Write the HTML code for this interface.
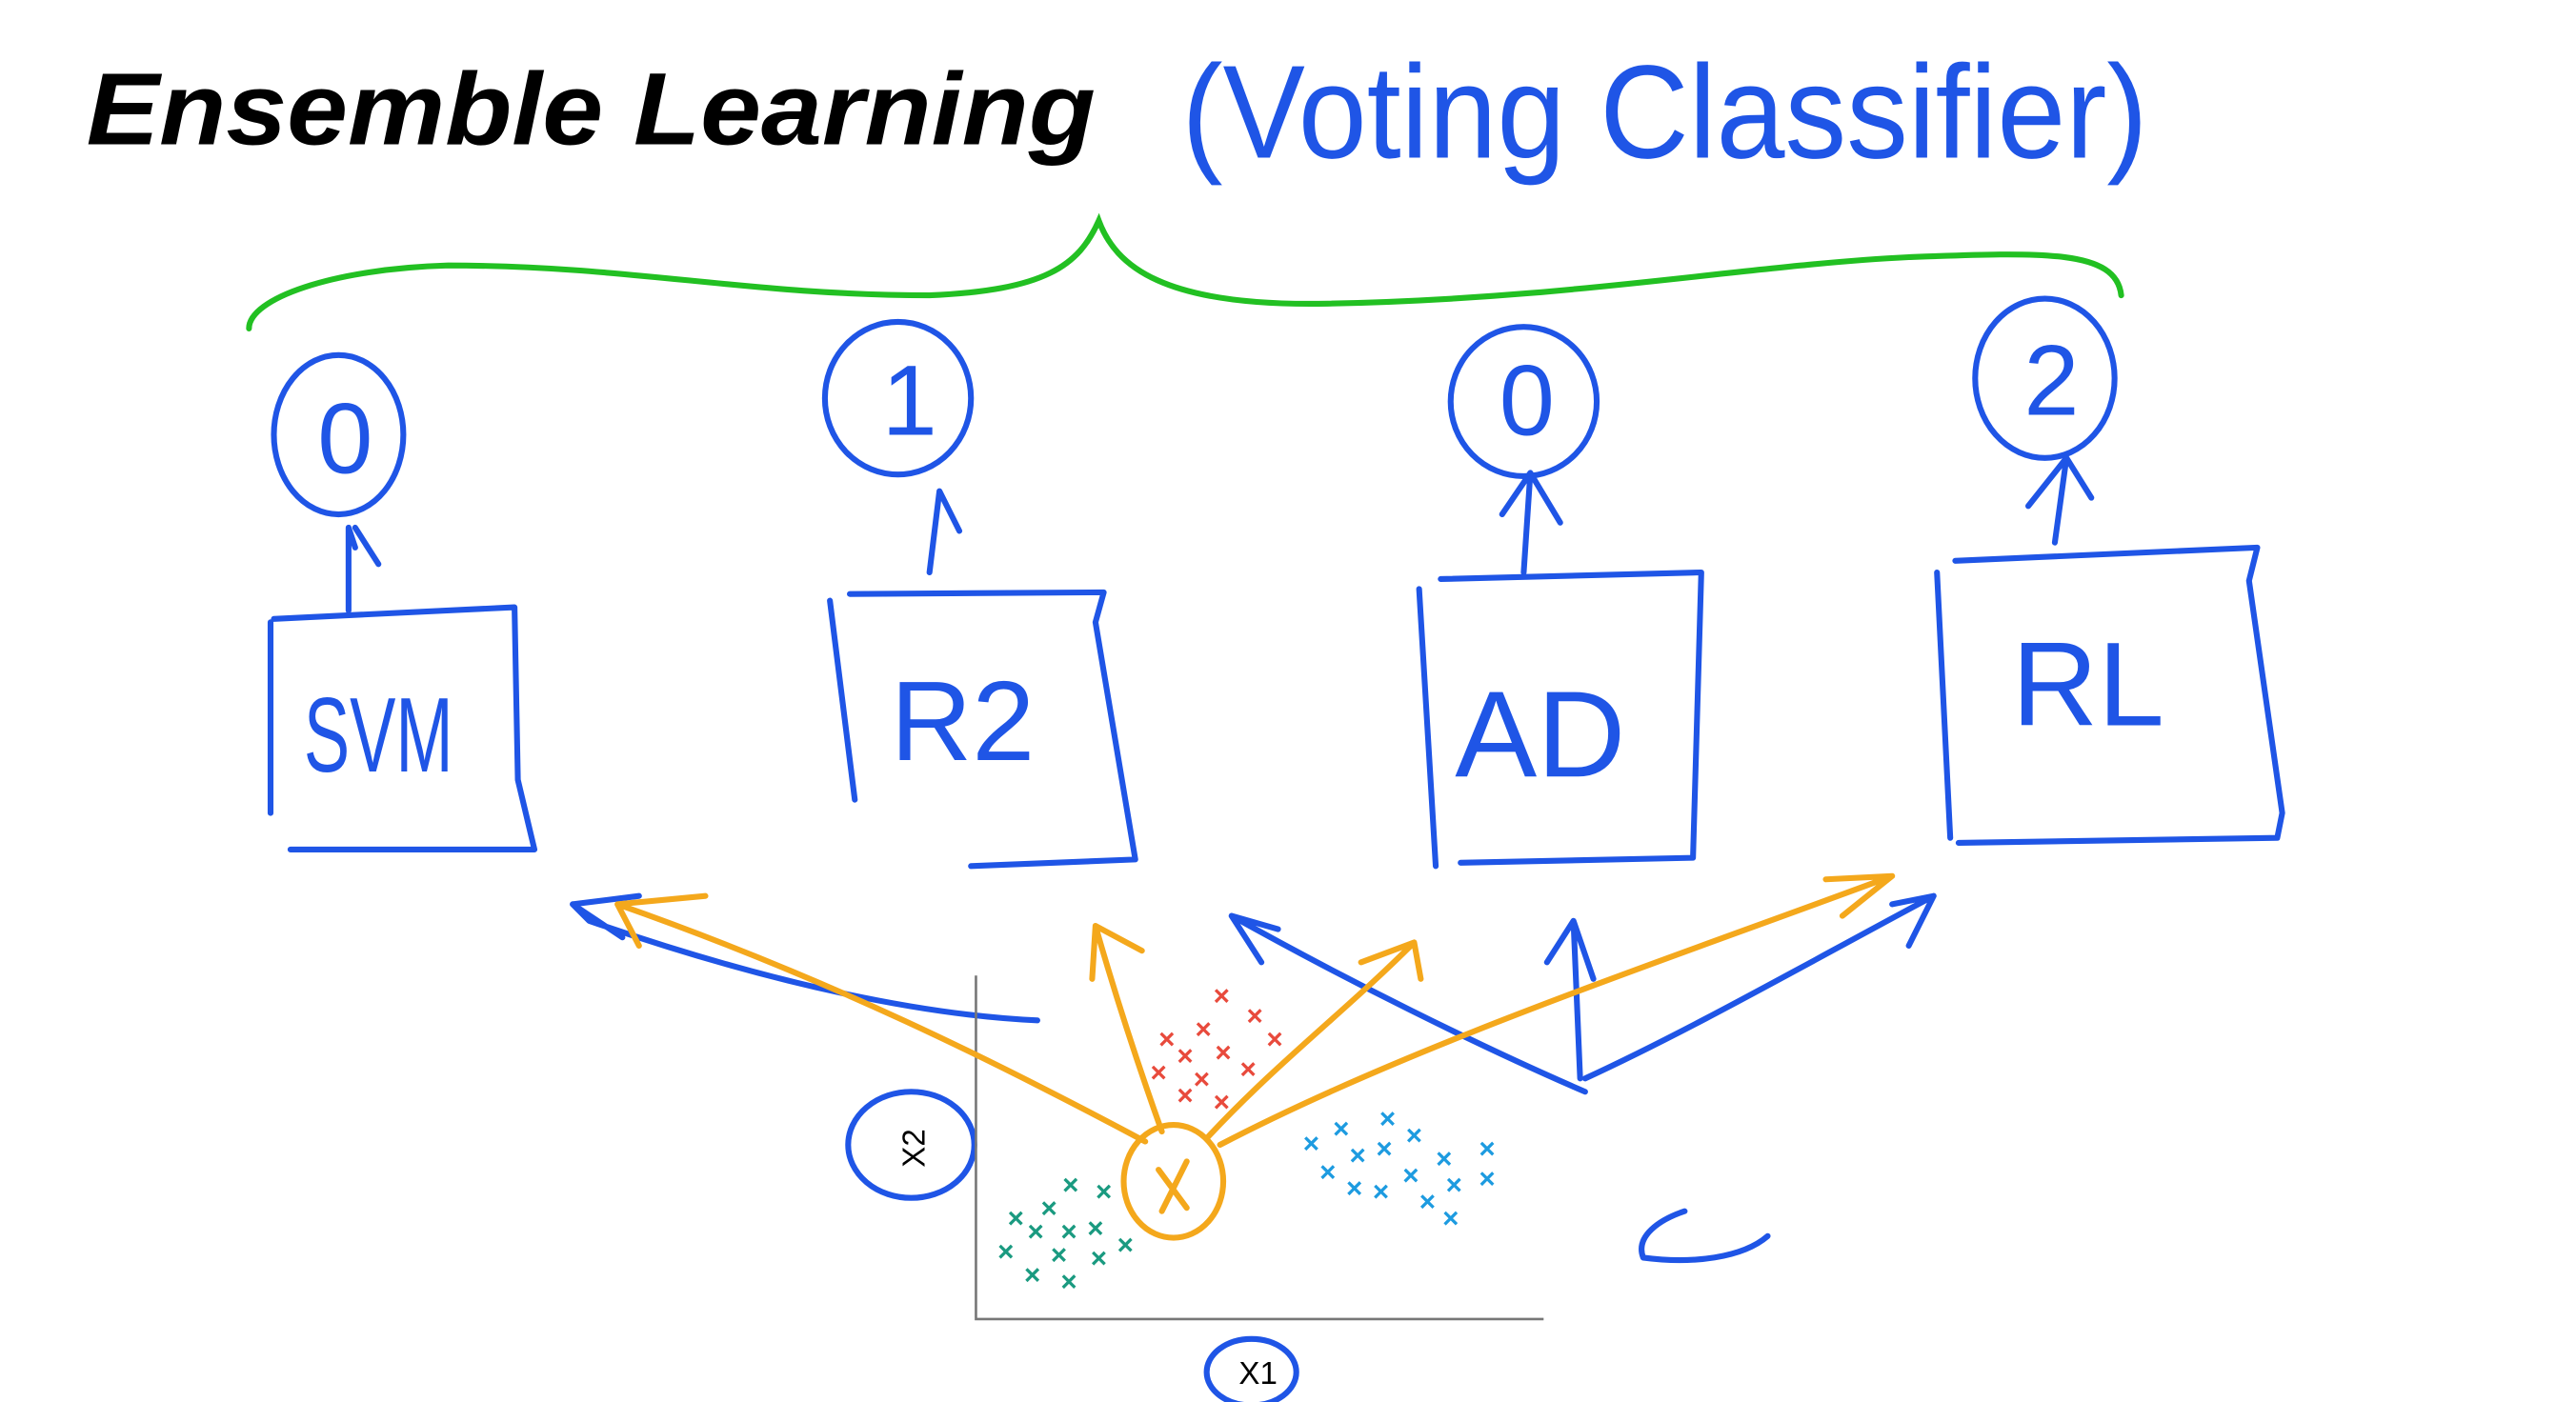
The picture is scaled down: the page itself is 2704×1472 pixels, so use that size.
<!DOCTYPE html>
<html><head><meta charset="utf-8"><style>
html,body{margin:0;padding:0;background:#fff;}
svg{display:block;}
</style></head><body>
<svg width="2704" height="1472" viewBox="0 0 1552 845" preserveAspectRatio="none" xmlns="http://www.w3.org/2000/svg">
<rect width="1552" height="845" fill="#fff"/>
<text x="52" y="87" font-family="Liberation Sans, sans-serif" font-size="62" font-weight="bold" font-style="italic" fill="#000" textLength="608" lengthAdjust="spacingAndGlyphs">Ensemble Learning</text>
<text x="712" y="95" font-family="Liberation Sans, sans-serif" font-size="80" fill="#1f55e6" textLength="582" lengthAdjust="spacingAndGlyphs">(Voting Classifier)</text>
<g fill="none" stroke="#22c022" stroke-width="3.5" stroke-linecap="round">
<path d="M150,198 C150,180 200,162 270,160 C380,160 450,178 560,178 C630,175 650,160 662,133 C672,160 700,185 800,183 C950,180 1050,160 1150,155 C1230,152 1275,150 1278,178"/>
</g>
<g fill="none" stroke="#1f55e6" stroke-width="3.5" stroke-linecap="round" stroke-linejoin="round">
<ellipse cx="204" cy="262" rx="39" ry="48"/>
<ellipse cx="541" cy="240" rx="44" ry="46"/>
<ellipse cx="918" cy="242" rx="44" ry="45"/>
<ellipse cx="1232" cy="228" rx="42" ry="48"/>
<path d="M163,375 L163,490 M165,373 L310,366 L312,470 L322,512 L175,512"/>
<path d="M500,362 L515,482 M512,358 L665,357 L660,375 L684,518 L585,522"/>
<path d="M855,355 L865,522 M868,349 L1025,345 L1020,517 L880,520"/>
<path d="M1167,345 L1175,505 M1178,338 L1360,330 L1355,350 L1375,490 L1372,505 L1180,508"/>
<path d="M210,368 L210,318 L214,330 M214,318 L228,340"/>
<path d="M560,345 L566,296 L578,320"/>
<path d="M918,345 L922,285 L905,310 M922,285 L940,315"/>
<path d="M1238,327 L1245,276 L1222,305 M1245,276 L1260,300"/>
<path d="M625,615 C560,612 470,595 355,555 L345,545 L375,565 M345,545 L385,540"/>
<path d="M955,658 C890,630 810,590 742,552 L760,580 M742,552 L770,560"/>
<path d="M952,650 L948,555 L932,580 M948,555 L960,590"/>
<path d="M955,650 C1020,620 1090,580 1165,540 L1140,545 M1165,540 L1150,570"/>
<path d="M990,758 C985,745 1000,735 1015,730 M990,758 C1020,762 1050,758 1065,745"/>
<ellipse cx="549" cy="690" rx="38" ry="32"/>
<ellipse cx="754" cy="827" rx="27" ry="20"/>
</g>
<g font-family="Liberation Sans, sans-serif" fill="#1f55e6" font-size="60" text-anchor="middle">
<text x="208" y="285">0</text>
<text x="548" y="262">1</text>
<text x="920" y="262">0</text>
<text x="1236" y="250">2</text>
<text x="228" y="465" font-size="64" textLength="90" lengthAdjust="spacingAndGlyphs">SVM</text>
<text x="580" y="458" font-size="68">R2</text>
<text x="928" y="468" font-size="74">AD</text>
<text x="1258" y="437" font-size="72">RL</text>
</g>
<g stroke="#777" stroke-width="1.5" fill="none"><path d="M588,588 L588,795 L930,795"/></g>
<text x="557" y="692" font-family="Liberation Sans, sans-serif" font-size="19" fill="#000" text-anchor="middle" transform="rotate(-90 557 692)">X2</text>
<text x="758" y="834" font-family="Liberation Sans, sans-serif" font-size="19" fill="#000" text-anchor="middle">X1</text>
<g font-family="Liberation Sans, sans-serif" font-size="17" font-weight="bold" text-anchor="middle">
<g fill="#e84a3c">
<text x="736" y="606">×</text><text x="725" y="626">×</text><text x="756" y="618">×</text><text x="703" y="632">×</text><text x="714" y="642">×</text><text x="737" y="640">×</text><text x="768" y="632">×</text><text x="698" y="652">×</text><text x="752" y="650">×</text><text x="714" y="666">×</text><text x="736" y="670">×</text><text x="724" y="656">×</text>
</g>
<g fill="#1d9be0">
<text x="790" y="695">×</text><text x="808" y="686">×</text><text x="836" y="680">×</text><text x="818" y="702">×</text><text x="834" y="698">×</text><text x="852" y="690">×</text><text x="870" y="704">×</text><text x="896" y="698">×</text><text x="800" y="712">×</text><text x="816" y="722">×</text><text x="850" y="714">×</text><text x="876" y="720">×</text><text x="896" y="716">×</text><text x="832" y="724">×</text><text x="860" y="730">×</text><text x="874" y="740">×</text>
</g>
<g fill="#1a9a80">
<text x="645" y="720">×</text><text x="665" y="724">×</text><text x="612" y="740">×</text><text x="632" y="734">×</text><text x="624" y="748">×</text><text x="644" y="748">×</text><text x="660" y="746">×</text><text x="606" y="760">×</text><text x="638" y="762">×</text><text x="662" y="764">×</text><text x="678" y="756">×</text><text x="622" y="774">×</text><text x="644" y="778">×</text>
</g>
</g>
<g fill="none" stroke="#f4a81c" stroke-width="3.5" stroke-linecap="round" stroke-linejoin="round">
<ellipse cx="707" cy="712" rx="30" ry="34"/>
<path d="M698,705 L715,728 M715,700 L700,730"/>
<path d="M690,688 C600,640 500,590 372,545 L385,570 M372,545 L425,540"/>
<path d="M700,682 C685,640 672,600 660,558 L658,590 M660,558 L688,573"/>
<path d="M728,685 C770,640 810,610 852,568 L820,580 M852,568 L856,590"/>
<path d="M735,690 C850,630 1000,580 1140,528 L1100,530 M1140,528 L1110,552"/>
</g>
</svg>
</body></html>
